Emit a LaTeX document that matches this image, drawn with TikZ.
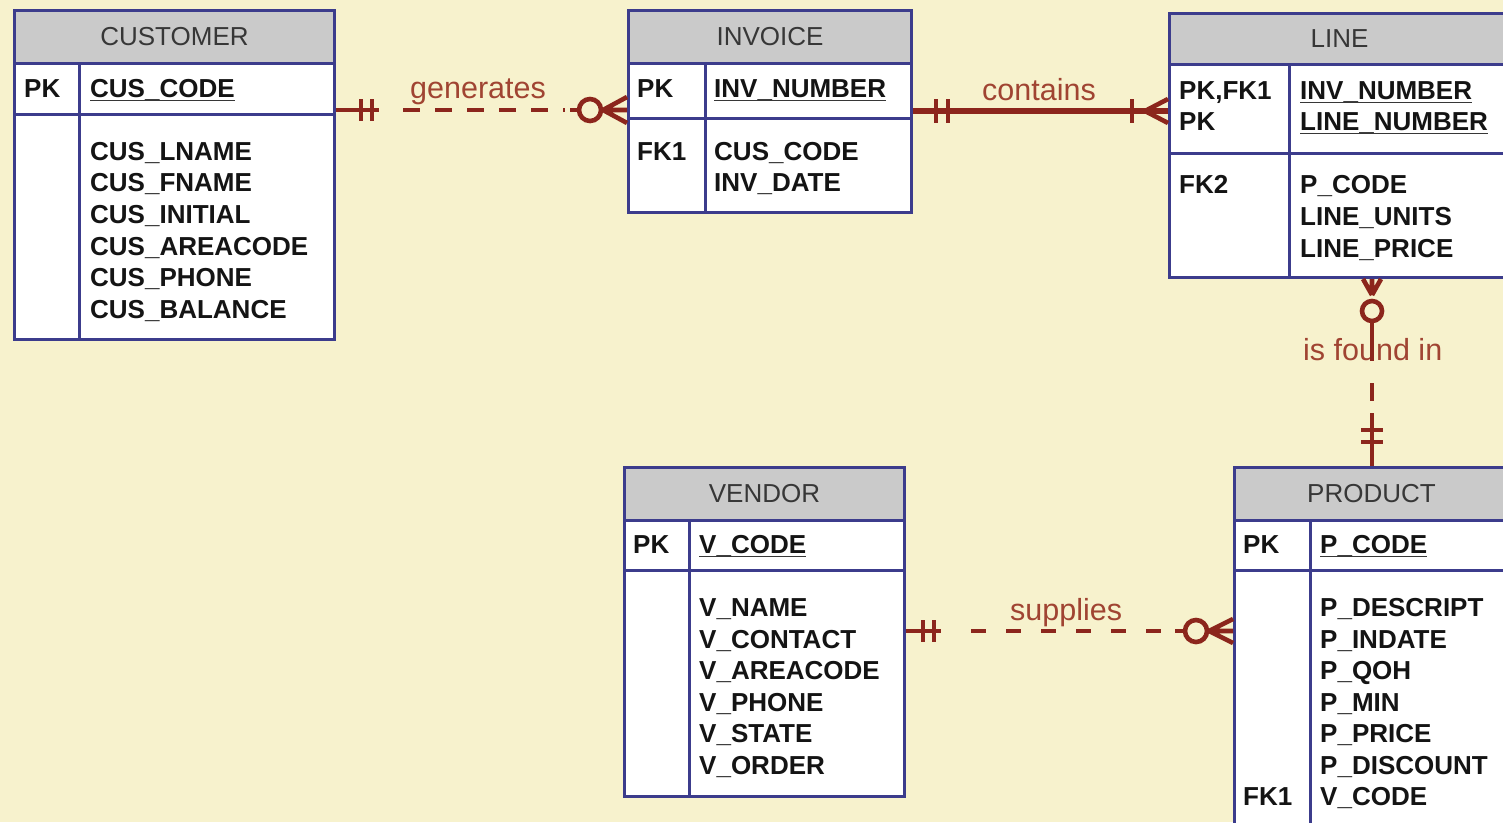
\documentclass[tikz,border=0pt]{standalone}
\usepackage{fontspec}
\setmainfont{Liberation Sans}
\usetikzlibrary{calc}
\definecolor{bgc}{RGB}{247,242,205}
\definecolor{hgray}{RGB}{202,202,202}
\definecolor{tblue}{RGB}{60,60,140}
\definecolor{htext}{RGB}{55,55,55}
\definecolor{ftext}{RGB}{20,20,20}
\definecolor{relc}{RGB}{140,38,28}
\definecolor{labc}{RGB}{160,68,50}
\newcommand\fldfnt{\fontsize{26}{30}\selectfont\bfseries}
\newcommand\hdrfnt{\fontsize{26}{30}\selectfont}
\newcommand\labfnt{\fontsize{30.5}{34}\selectfont}
\begin{document}
\begin{tikzpicture}[x=1pt,y=-1pt,
  tbody/.style={draw=tblue, fill=white, line width=3pt, anchor=north west, inner sep=0pt},
  thead/.style={draw=tblue, fill=hgray, line width=3pt, anchor=north west, inner sep=0pt, font=\hdrfnt, text=htext},
  tline/.style={draw=tblue, line width=3pt},
  fld/.style={anchor=base west, inner sep=0pt, font=\fldfnt, text=ftext},
  uline/.style={draw=ftext!85, line width=1.8pt},
  rel/.style={draw=relc, line width=4.6pt},
  relthick/.style={draw=relc, line width=5.2pt},
  rellab/.style={anchor=base west, inner sep=0pt, font=\labfnt, text=labc}]
\fill[bgc] (0,0) rectangle (1503,822);
\useasboundingbox (0,0) rectangle (1503,822);
\clip (0,0) rectangle (1503,822);

% ---------------- CUSTOMER
\node[tbody, minimum width=320pt, minimum height=329pt] (cust) at (13,9) {};
\node[thead, minimum width=320pt, minimum height=53pt] (custh) at (13,9) {CUSTOMER};
\draw[tline] (13,114) -- (333,114);
\draw[tline] (79,62) -- (79,338);
\node[fld] (custk1) at (24,97) {PK};
\node[fld] (custf1) at (90,97) {CUS\_CODE};
\draw[uline] ([yshift=-3.5pt]custf1.base west) -- ([yshift=-3.5pt]custf1.base east);
\node[fld] (custa1) at (90,160) {CUS\_LNAME};
\node[fld] (custa2) at (90,191.7) {CUS\_FNAME};
\node[fld] (custa3) at (90,223.4) {CUS\_INITIAL};
\node[fld] (custa4) at (90,255.1) {CUS\_AREACODE};
\node[fld] (custa5) at (90,286.8) {CUS\_PHONE};
\node[fld] (custa6) at (90,318.5) {CUS\_BALANCE};

% ---------------- INVOICE
\node[tbody, minimum width=283pt, minimum height=202pt] (inv) at (627,9) {};
\node[thead, minimum width=283pt, minimum height=53pt] (invh) at (627,9) {INVOICE};
\draw[tline] (627,118) -- (910,118);
\draw[tline] (705,62) -- (705,211);
\node[fld] (invk1) at (637,97) {PK};
\node[fld] (invf1) at (714,97) {INV\_NUMBER};
\draw[uline] ([yshift=-3.5pt]invf1.base west) -- ([yshift=-3.5pt]invf1.base east);
\node[fld] (invk2) at (637,160) {FK1};
\node[fld] (inva1) at (714,160) {CUS\_CODE};
\node[fld] (inva2) at (714,191.5) {INV\_DATE};

% ---------------- LINE
\node[tbody, minimum width=340pt, minimum height=264pt] (lin) at (1168,12) {};
\node[thead, minimum width=340pt, minimum height=51pt] (linh) at (1168,12) {LINE};
\draw[tline] (1168,153) -- (1508,153);
\draw[tline] (1289,63) -- (1289,276);
\node[fld] (link1) at (1179,99) {PK,FK1};
\node[fld] (link2) at (1179,130) {PK};
\node[fld] (linf1) at (1300,99) {INV\_NUMBER};
\node[fld] (linf2) at (1300,130) {LINE\_NUMBER};
\draw[uline] ([yshift=-3.5pt]linf1.base west) -- ([yshift=-3.5pt]linf1.base east);
\draw[uline] ([yshift=-3.5pt]linf2.base west) -- ([yshift=-3.5pt]linf2.base east);
\node[fld] (link3) at (1179,193) {FK2};
\node[fld] (lina1) at (1300,193) {P\_CODE};
\node[fld] (lina2) at (1300,225) {LINE\_UNITS};
\node[fld] (lina3) at (1300,257) {LINE\_PRICE};

% ---------------- VENDOR
\node[tbody, minimum width=280pt, minimum height=329pt] (ven) at (623,466) {};
\node[thead, minimum width=280pt, minimum height=53pt] (venh) at (623,466) {VENDOR};
\draw[tline] (623,570) -- (903,570);
\draw[tline] (689,519) -- (689,795);
\node[fld] (venk1) at (633,553) {PK};
\node[fld] (venf1) at (699,553) {V\_CODE};
\draw[uline] ([yshift=-3.5pt]venf1.base west) -- ([yshift=-3.5pt]venf1.base east);
\node[fld] (vena1) at (699,616.5) {V\_NAME};
\node[fld] (vena2) at (699,648) {V\_CONTACT};
\node[fld] (vena3) at (699,679.5) {V\_AREACODE};
\node[fld] (vena4) at (699,711) {V\_PHONE};
\node[fld] (vena5) at (699,742.5) {V\_STATE};
\node[fld] (vena6) at (699,774) {V\_ORDER};

% ---------------- PRODUCT
\node[tbody, minimum width=274pt, minimum height=380pt] (prod) at (1233,466) {};
\node[thead, minimum width=274pt, minimum height=53pt] (prodh) at (1233,466) {PRODUCT};
\draw[tline] (1233,570) -- (1507,570);
\draw[tline] (1310,519) -- (1310,846);
\node[fld] (prodk1) at (1243,553) {PK};
\node[fld] (prodf1) at (1320,553) {P\_CODE};
\draw[uline] ([yshift=-3.5pt]prodf1.base west) -- ([yshift=-3.5pt]prodf1.base east);
\node[fld] (proda1) at (1320,616.5) {P\_DESCRIPT};
\node[fld] (proda2) at (1320,648) {P\_INDATE};
\node[fld] (proda3) at (1320,679.5) {P\_QOH};
\node[fld] (proda4) at (1320,711) {P\_MIN};
\node[fld] (proda5) at (1320,742.5) {P\_PRICE};
\node[fld] (proda6) at (1320,774) {P\_DISCOUNT};
\node[fld] (prodk2) at (1243,805.5) {FK1};
\node[fld] (proda7) at (1320,805.5) {V\_CODE};

% ---------------- relationship labels
\node[rellab] (lgen) at (410,98) {generates};
\node[rellab] (lcon) at (982,100) {contains};
\node[rellab] (lsup) at (1010,620) {supplies};
\node[rellab] (lfnd) at (1303,360) {is found in};

% ---------------- generates (CUSTOMER -> INVOICE)
\coordinate (gA) at (cust.north east |- 0,110);
\coordinate (gB) at (inv.north west |- 0,110);
\draw[rel] (gA) -- ($(gA)+(43,0)$);
\draw[rel] ($(gA)+(25,-11)$) -- ($(gA)+(25,11)$);
\draw[rel] ($(gA)+(36,-11)$) -- ($(gA)+(36,11)$);
\draw[rel, dash pattern=on 17pt off 15pt] ($(gA)+(67,0)$) -- ($(gA)+(229,0)$);
\draw[rel] ($(gB)+(-57,0)$) -- ($(gB)+(-48,0)$);
\draw[rel] ($(gB)+(-37,0)$) circle [radius=11];
\draw[rel] ($(gB)+(-24,0)$) -- ($(gB)+(0,-13)$)
           ($(gB)+(-24,0)$) -- (gB)
           ($(gB)+(-24,0)$) -- ($(gB)+(0,13)$);

% ---------------- contains (INVOICE -> LINE)
\coordinate (cA) at (inv.north east |- 0,111);
\coordinate (cB) at (lin.north west |- 0,111);
\draw[relthick] (cA) -- (cB);
\draw[rel] ($(cA)+(23,-12)$) -- ($(cA)+(23,12)$);
\draw[rel] ($(cA)+(35,-12)$) -- ($(cA)+(35,12)$);
\draw[rel] ($(cB)+(-36,-12)$) -- ($(cB)+(-36,12)$);
\draw[rel] ($(cB)+(-23,0)$) -- ($(cB)+(0,-12)$)
           ($(cB)+(-23,0)$) -- ($(cB)+(0,12)$);

% ---------------- is found in (LINE -> PRODUCT)
\coordinate (fA) at (lin.south -| 1372,0);
\coordinate (fB) at (prod.north -| 1372,0);
\draw[rel] ($(fA)+(0,16)$) -- ($(fA)+(-9,0)$)
           ($(fA)+(0,16)$) -- (fA)
           ($(fA)+(0,16)$) -- ($(fA)+(9,0)$);
\draw[rel] ($(fA)+(0,32)$) circle [radius=10];
\draw[rel] ($(fA)+(0,42)$) -- ($(fA)+(0,82)$);
\draw[rel] ($(fA)+(0,104)$) -- ($(fA)+(0,122)$);
\draw[rel] ($(fB)+(0,-53)$) -- (fB);
\draw[rel] ($(fB)+(-11,-36)$) -- ($(fB)+(11,-36)$);
\draw[rel] ($(fB)+(-11,-24)$) -- ($(fB)+(11,-24)$);

% ---------------- supplies (VENDOR -> PRODUCT)
\coordinate (sA) at (ven.north east |- 0,631);
\coordinate (sB) at (prod.north west |- 0,631);
\draw[rel] (sA) -- ($(sA)+(35,0)$);
\draw[rel] ($(sA)+(17,-11)$) -- ($(sA)+(17,11)$);
\draw[rel] ($(sA)+(28,-11)$) -- ($(sA)+(28,11)$);
\draw[rel, dash pattern=on 15pt off 20pt] ($(sA)+(65,0)$) -- ($(sA)+(257,0)$);
\draw[rel] ($(sB)+(-58,0)$) -- ($(sB)+(-48,0)$);
\draw[rel] ($(sB)+(-37,0)$) circle [radius=11];
\draw[rel] ($(sB)+(-24,0)$) -- ($(sB)+(0,-12)$)
           ($(sB)+(-24,0)$) -- (sB)
           ($(sB)+(-24,0)$) -- ($(sB)+(0,12)$);
\end{tikzpicture}
\end{document}
